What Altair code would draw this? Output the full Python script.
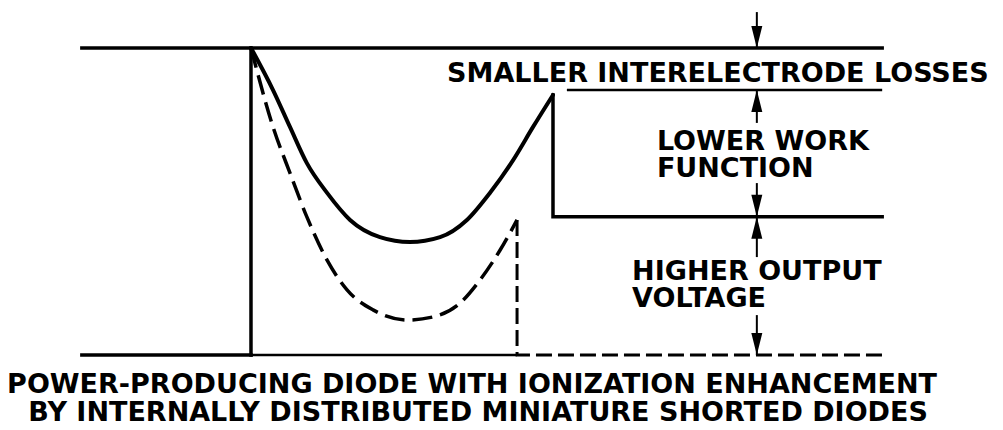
import altair as alt
import pandas as pd

# ---- diagram values (position units: cathode = 0, anode = 10; energy units: bottom = 0, emitter level = 10)
emitter_level = 10.0
interelectrode_level = 8.63
collector_level = 4.50
ground_level = 0.0
left_end = -5.6
right_end = 20.9
anode_x = 10.0
anode_peak = 8.47
shorted_anode_x = 8.81
shorted_peak = 4.40
loss_line_start = 10.46

# solid potential curve (main diode)
solid_x = [0.0, 0.73, 1.29, 1.85, 2.52, 3.28, 4.27, 5.26, 6.26, 7.15, 7.91, 8.68, 9.34, 10.0]
solid_e = [10.0, 8.63, 7.43, 6.25, 5.28, 4.40, 3.84, 3.68, 3.84, 4.40, 5.28, 6.35, 7.43, 8.47]

# dashed potential curve (shorted miniature diodes)
dash_x = [0.0, 0.73, 1.29, 1.85, 2.52, 3.18, 4.04, 5.17, 6.03, 6.92, 7.58, 8.25, 8.81]
dash_e = [10.0, 7.43, 5.93, 4.50, 3.09, 2.12, 1.47, 1.14, 1.24, 1.69, 2.44, 3.42, 4.40]

# dimension arrows (x, from, to-tip)
arrow_x = 16.75
arrow_from = [11.17, 7.56, 5.60, 3.19, 1.30]
arrow_to = [10.0, 8.63, 4.50, 4.50, 0.0]

# labels
label_text = ["SMALLER INTERELECTRODE LOSSES", "LOWER WORK", "FUNCTION", "HIGHER OUTPUT", "VOLTAGE"]
label_x = [15.46, 13.44, 13.44, 12.62, 12.62]
label_e = [8.89, 6.68, 5.80, 2.44, 1.56]
label_align = ["center", "left", "left", "left", "left"]
caption_text = ["POWER-PRODUCING DIODE WITH IONIZATION ENHANCEMENT",
                "BY INTERNALLY DISTRIBUTED MINIATURE SHORTED DIODES"]
caption_x = [7.32, 7.52]
caption_e = [-1.24, -2.15]

# ---- build tables
def table(segs):
    rows = []
    for name, xs_, es_ in segs:
        for i, (a, b) in enumerate(zip(xs_, es_)):
            rows.append({"seg": name, "i": i, "x": a, "e": b})
    return pd.DataFrame(rows)

thick_df = table([
    ("top", [left_end, right_end], [emitter_level, emitter_level]),
    ("left", [0.0, 0.0], [ground_level, emitter_level]),
    ("anode", [anode_x, anode_x, right_end], [anode_peak, collector_level, collector_level]),
    ("bottomL", [left_end, 0.0], [ground_level, ground_level]),
])
thin_df = table([
    ("loss", [loss_line_start, right_end], [interelectrode_level, interelectrode_level]),
    ("bottomM", [0.0, shorted_anode_x], [ground_level, ground_level]),
])
curve_df = table([("solid", solid_x, solid_e)])
dash_curve_df = table([("dash", dash_x, dash_e)])
dash_line_df = table([("dashv", [shorted_anode_x, shorted_anode_x, right_end],
                       [shorted_peak, ground_level, ground_level])])

arrow_df = pd.DataFrame({
    "x": [arrow_x] * len(arrow_from),
    "e1": arrow_from,
    "e2": arrow_to,
    "dir": ["down" if f > t else "up" for f, t in zip(arrow_from, arrow_to)],
})

X0, X1 = -8.046, 24.636
Y0, Y1 = -2.182, 11.303
xs = alt.Scale(domain=[X0, X1], nice=False, zero=False)
ys = alt.Scale(domain=[Y0, Y1], nice=False, zero=False)
X = lambda f: alt.X(f, type="quantitative", scale=xs, axis=None)
Y = lambda f: alt.Y(f, type="quantitative", scale=ys, axis=None)

thick = alt.Chart(thick_df).mark_line(color="black", strokeWidth=3.5, strokeCap="square", strokeJoin="miter").encode(
    x=X("x"), y=Y("e"), detail="seg:N", order="i:Q")
thin = alt.Chart(thin_df).mark_line(color="black", strokeWidth=2.5).encode(
    x=X("x"), y=Y("e"), detail="seg:N", order="i:Q")
curve = alt.Chart(curve_df).mark_line(color="black", strokeWidth=4, strokeCap="round", interpolate="monotone").encode(
    x=X("x"), y=Y("e"), order="i:Q")
dash_curve = alt.Chart(dash_curve_df).mark_line(color="black", strokeWidth=3.5, strokeDash=[20, 8], interpolate="monotone").encode(
    x=X("x"), y=Y("e"), order="i:Q")
dash_line = alt.Chart(dash_line_df).mark_line(color="black", strokeWidth=3, strokeDash=[16, 6]).encode(
    x=X("x"), y=Y("e"), order="i:Q")

shafts = alt.Chart(arrow_df).mark_rule(color="black", strokeWidth=2).encode(
    x=X("x"), y=Y("e1"), y2="e2")
down_heads = alt.Chart(arrow_df).transform_filter(alt.datum.dir == "down").mark_point(
    shape="M-0.5,-2L0.5,-2L0,0Z", size=484, filled=True, color="black", opacity=1).encode(
    x=X("x"), y=Y("e2"))
up_heads = alt.Chart(arrow_df).transform_filter(alt.datum.dir == "up").mark_point(
    shape="M-0.5,2L0.5,2L0,0Z", size=484, filled=True, color="black", opacity=1).encode(
    x=X("x"), y=Y("e2"))

FONT = dict(font="DejaVu Sans", fontSize=27, fontWeight="bold", baseline="alphabetic", color="black")
labels_df = pd.DataFrame({"t": label_text, "x": label_x, "e": label_e, "a": label_align})
lab_center = alt.Chart(labels_df).transform_filter(alt.datum.a == "center").mark_text(
    align="center", **FONT).encode(x=X("x"), y=Y("e"), text="t:N")
lab_left = alt.Chart(labels_df).transform_filter(alt.datum.a == "left").mark_text(
    align="left", **FONT).encode(x=X("x"), y=Y("e"), text="t:N")
cap_df = pd.DataFrame({"t": caption_text, "x": caption_x, "e": caption_e})
caps = alt.Chart(cap_df).mark_text(align="center", **FONT).encode(
    x=X("x"), y=Y("e"), text="t:N")

chart = alt.layer(thick, thin, curve, dash_curve, dash_line, shafts, down_heads, up_heads,
                  lab_center, lab_left, caps).properties(
    width=987, height=414, autosize=alt.AutoSizeParams(type="none"), padding=0,
    background="white"
).configure_view(stroke=None)

chart.save("out.html", embed_options={"renderer": "svg", "actions": False})
